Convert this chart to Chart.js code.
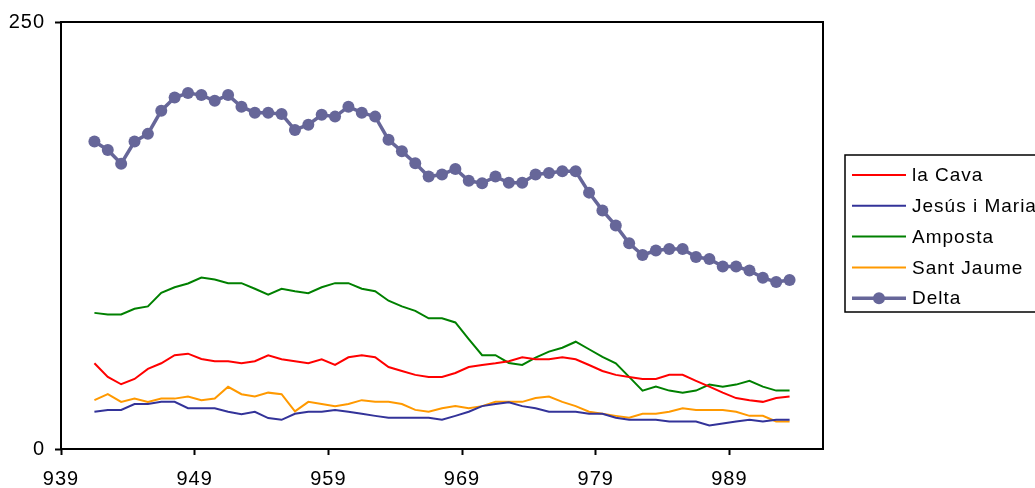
<!DOCTYPE html>
<html>
<head>
<meta charset="utf-8">
<script src="https://cdn.jsdelivr.net/npm/chart.js@4/dist/chart.umd.min.js"></script>
<style>
  body { margin: 0; background: #fff; }
  #wrap { width: 1035px; height: 488px; position: relative; }
</style>
</head>
<body>
<div id="wrap"><canvas id="chart" width="1035" height="488"></canvas></div>
<script>
// data (one point per year)
const years = [941.5, 942.5, 943.5, 944.5, 945.5, 946.5, 947.5, 948.5, 949.5, 950.5,
  951.5, 952.5, 953.5, 954.5, 955.5, 956.5, 957.5, 958.5, 959.5, 960.5,
  961.5, 962.5, 963.5, 964.5, 965.5, 966.5, 967.5, 968.5, 969.5, 970.5,
  971.5, 972.5, 973.5, 974.5, 975.5, 976.5, 977.5, 978.5, 979.5, 980.5,
  981.5, 982.5, 983.5, 984.5, 985.5, 986.5, 987.5, 988.5, 989.5, 990.5,
  991.5, 992.5, 993.5];

const laCava = [50.2, 42.2, 37.9, 41, 46.9, 50.2, 54.9, 55.8, 52.7, 51.4,
  51.4, 50.2, 51.4, 54.9, 52.5, 51.4, 50.2, 52.5, 49.2, 53.7,
  54.9, 53.7, 48, 45.7, 43.4, 42.2, 42.2, 44.5, 48, 49.2,
  50.2, 51.4, 53.7, 52.5, 52.5, 53.7, 52.5, 49.2, 45.7, 43.4,
  42.2, 41, 41, 43.4, 43.4, 39.9, 36.5, 33, 29.8, 28.6,
  27.6, 29.8, 30.7];

const jesusMaria = [21.8, 22.9, 22.9, 26.3, 26.3, 27.6, 27.6, 23.9, 23.9, 23.9,
  21.8, 20.4, 21.8, 18.1, 17.1, 20.6, 21.8, 21.8, 22.9, 21.8,
  20.6, 19.4, 18.3, 18.3, 18.3, 18.3, 17.1, 19.4, 21.8, 25.1,
  26.3, 27.4, 25.1, 23.9, 21.8, 21.8, 21.8, 20.6, 20.6, 18.3,
  17.1, 17.1, 17.1, 16.1, 16.1, 16.1, 13.8, 14.9, 16.1, 17.1,
  16.1, 17.1, 17.1];

const amposta = [79.7, 78.8, 78.8, 82.1, 83.5, 91.4, 94.7, 96.9, 100.4, 99.2,
  97.1, 97.1, 93.8, 90.3, 93.8, 92.4, 91.2, 94.7, 97.1, 97.1,
  93.8, 92.4, 86.8, 83.5, 80.9, 76.5, 76.5, 74.1, 64.4, 54.9,
  54.9, 50.4, 49.2, 53.5, 57, 59.3, 62.8, 58.4, 53.9, 50.2,
  42.2, 34.2, 36.5, 34.2, 33, 34.2, 37.7, 36.5, 37.7, 39.9,
  36.5, 34.2, 34.2];

const santJaume = [28.6, 32.1, 27.6, 29.5, 27.6, 29.5, 29.5, 30.7, 28.6, 29.5,
  36.4, 32.1, 30.7, 33, 32.1, 22, 27.6, 26.4, 25.1, 26.3,
  28.6, 27.6, 27.6, 26.3, 22.9, 21.8, 23.9, 25.1, 23.9, 25.1,
  27.6, 27.6, 27.6, 29.8, 30.7, 27.6, 25.1, 21.8, 20.6, 19.4,
  18.3, 20.6, 20.6, 21.8, 23.9, 22.9, 22.9, 22.9, 21.8, 19.4,
  19.4, 16.1, 16.1];

const delta = [180, 175.1, 167, 180, 184.5, 198.1, 205.8, 208.4, 207.2, 203.9,
  207.2, 200.4, 196.9, 196.9, 196.1, 186.8, 189.9, 195.7, 194.6, 200.4,
  196.9, 194.6, 181, 174.3, 167.3, 159.5, 160.7, 164, 157, 155.6,
  159.5, 155.9, 155.9, 160.7, 161.6, 162.6, 162.6, 150.1, 139.7, 130.8,
  120.4, 113.6, 116.2, 117.1, 117.1, 112.4, 111.3, 106.8, 106.8, 104.5,
  100.2, 97.8, 99];

const xTicks = [939, 949, 959, 969, 979, 989];
const yTicks = [0, 250];

const FONT = "'Liberation Sans', Arial, sans-serif";

function pts(values) {
  return years.map((x, i) => ({ x: x, y: values[i] }));
}

// the original text is set a bit looser than canvas default
const spacing = {
  id: 'spacing',
  beforeDraw(chart) {
    chart.ctx.letterSpacing = '1px';
  }
};

// frame round the plot area (Excel style box)
const frame = {
  id: 'frame',
  afterDraw(chart) {
    const a = chart.chartArea;
    const ctx = chart.ctx;
    ctx.save();
    ctx.strokeStyle = '#000';
    ctx.lineWidth = 2;
    ctx.strokeRect(a.left, a.top, a.right - a.left, a.bottom - a.top);
    ctx.restore();
  }
};

// boxed legend on the right, drawn by hand so it sits where the original is
const boxLegend = {
  id: 'boxLegend',
  afterDraw(chart) {
    const ctx = chart.ctx;
    const x0 = 845, y0 = 155, w = 200, h = 157;
    ctx.save();
    ctx.fillStyle = '#fff';
    ctx.fillRect(x0, y0, w, h);
    ctx.strokeStyle = '#000';
    ctx.lineWidth = 1.5;
    ctx.strokeRect(x0, y0, w, h);
    ctx.font = '19px ' + FONT;
    ctx.letterSpacing = '1px';
    ctx.textBaseline = 'middle';
    chart.data.datasets.forEach((ds, i) => {
      const y = 175 + i * 30.8;
      ctx.strokeStyle = ds.borderColor;
      ctx.lineWidth = ds.borderWidth;
      ctx.beginPath();
      ctx.moveTo(852, y);
      ctx.lineTo(906, y);
      ctx.stroke();
      if (ds.pointRadius > 0) {
        ctx.fillStyle = ds.pointBackgroundColor;
        ctx.beginPath();
        ctx.arc(879, y, ds.pointRadius, 0, Math.PI * 2);
        ctx.fill();
      }
      ctx.fillStyle = '#000';
      ctx.fillText(ds.label, 912, y + 1);
    });
    ctx.restore();
  }
};

const ctx = document.getElementById('chart').getContext('2d');
const chart = new Chart(ctx, {
  type: 'line',
  data: {
    datasets: [
      { label: 'la Cava', data: pts(laCava), borderColor: '#ff0000', borderWidth: 2, pointRadius: 0 },
      { label: 'Jesús i Maria', data: pts(jesusMaria), borderColor: '#333399', borderWidth: 2, pointRadius: 0 },
      { label: 'Amposta', data: pts(amposta), borderColor: '#008000', borderWidth: 2, pointRadius: 0 },
      { label: 'Sant Jaume', data: pts(santJaume), borderColor: '#ff9900', borderWidth: 2, pointRadius: 0 },
      { label: 'Delta', data: pts(delta), borderColor: '#666699', borderWidth: 3.5,
        pointRadius: 6, pointBackgroundColor: '#666699', pointBorderWidth: 0 }
    ]
  },
  options: {
    responsive: false,
    animation: false,
    layout: { padding: { top: 21, right: 212, left: 0, bottom: 0 } },
    plugins: {
      legend: { display: false },
      tooltip: { enabled: false }
    },
    scales: {
      x: {
        type: 'linear',
        min: 939,
        max: 996,
        afterBuildTicks: s => { s.ticks = xTicks.map(v => ({ value: v })); },
        afterFit: s => { s.height = 39; },
        border: { display: false },
        grid: { drawOnChartArea: false, tickLength: 6, color: '#000', tickWidth: 2 },
        ticks: { color: '#000', font: { family: FONT, size: 20 }, padding: 12, maxRotation: 0,
          callback: v => String(v) }
      },
      y: {
        min: 0,
        max: 250,
        afterBuildTicks: s => { s.ticks = yTicks.map(v => ({ value: v })); },
        afterFit: s => { s.width = 61; },
        border: { display: false },
        grid: { drawOnChartArea: false, tickLength: 6, color: '#000', tickWidth: 2 },
        ticks: { color: '#000', font: { family: FONT, size: 20 }, padding: 10 }
      }
    }
  },
  plugins: [spacing, frame, boxLegend]
});
</script>
</body>
</html>
